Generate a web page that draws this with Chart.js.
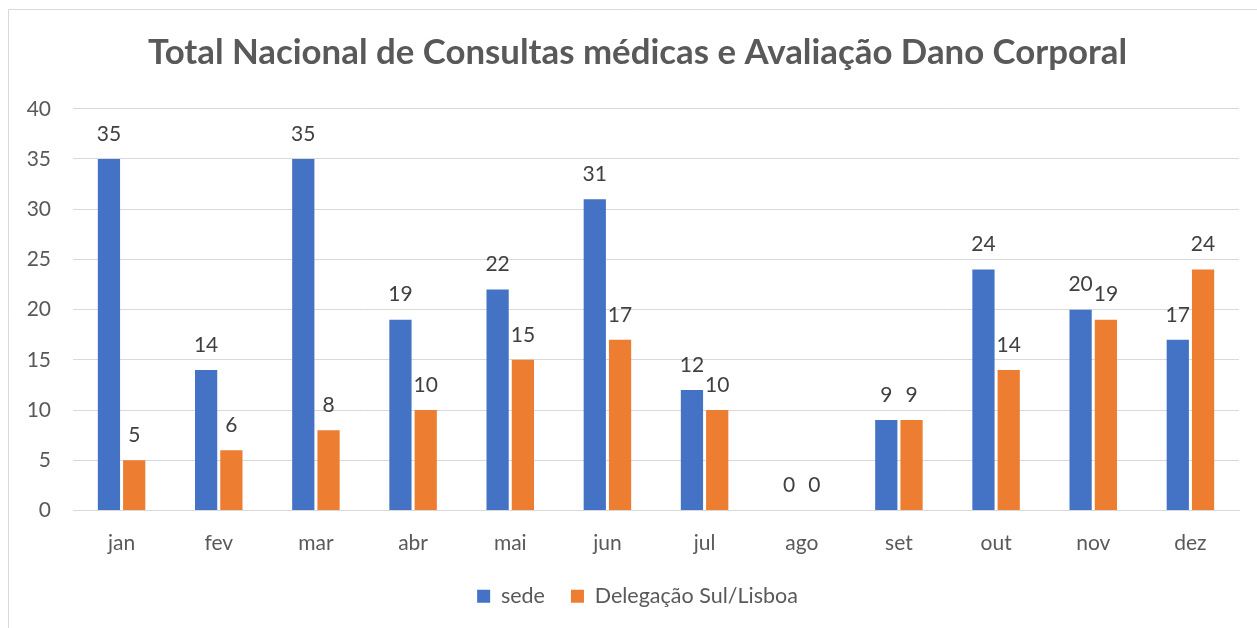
<!DOCTYPE html>
<html>
<head>
<meta charset="utf-8">
<script src="https://cdn.jsdelivr.net/npm/chart.js@4/dist/chart.umd.min.js"></script>
<style>
  html, body { margin: 0; padding: 0; background: #fff; }
  #wrap { position: relative; width: 1257px; height: 628px; }
  canvas { display: block; }
</style>
</head>
<body>
<div id="wrap"><canvas id="c" width="1257" height="628"></canvas></div>
<script>
const categories = ['jan','fev','mar','abr','mai','jun','jul','ago','set','out','nov','dez'];
const sede = [35,14,35,19,22,31,12,0,9,24,20,17];
const delegacao = [5,6,8,10,15,17,10,0,9,14,19,24];
const yTicks = [0,5,10,15,20,25,30,35,40];
const titleText = 'Total Nacional de Consultas médicas e Avaliação Dano Corporal';
const seriesNames = ['sede','Delegação Sul/Lisboa'];

const FONT = 'Lato, "Open Sans", sans-serif';

const framePlugin = {
  id: 'frame',
  beforeDraw(chart) {
    const ctx = chart.ctx;
    ctx.save();
    ctx.fillStyle = '#fff';
    ctx.fillRect(0, 0, chart.width, chart.height);
    ctx.strokeStyle = '#d9d9d9';
    ctx.lineWidth = 1;
    ctx.beginPath();
    ctx.moveTo(8.5, chart.height);
    ctx.lineTo(8.5, 9.5);
    ctx.lineTo(chart.width, 9.5);
    ctx.stroke();
    ctx.restore();
  }
};

const labelPlugin = {
  id: 'barLabels',
  afterDatasetsDraw(chart) {
    const ctx = chart.ctx;
    ctx.save();
    ctx.font = '21px ' + FONT;
    ctx.fillStyle = '#404040';
    ctx.textAlign = 'center';
    ctx.textBaseline = 'middle';
    chart.data.datasets.forEach((ds, di) => {
      const meta = chart.getDatasetMeta(di);
      meta.data.forEach((bar, i) => {
        ctx.fillText(String(ds.data[i]), bar.x, bar.y - 25);
      });
    });
    ctx.restore();
  }
};

new Chart(document.getElementById('c'), {
  type: 'bar',
  data: {
    labels: categories,
    datasets: [
      { label: seriesNames[0], data: sede, backgroundColor: '#4472C4', categoryPercentage: 0.52, barPercentage: 0.88 },
      { label: seriesNames[1], data: delegacao, backgroundColor: '#ED7D31', categoryPercentage: 0.52, barPercentage: 0.88 }
    ]
  },
  options: {
    responsive: false,
    animation: false,
    devicePixelRatio: 1,
    layout: { padding: { left: 18, right: 0, top: 32, bottom: 11 } },
    plugins: {
      title: {
        display: true,
        text: titleText,
        color: '#595959',
        font: { family: FONT, size: 34.8, weight: 'bold', lineHeight: 1.2 },
        padding: { top: 0, bottom: 35 }
      },
      legend: {
        display: true,
        position: 'bottom',
        labels: {
          color: '#595959',
          font: { family: FONT, size: 21.5 },
          boxWidth: 13,
          boxHeight: 13,
          padding: 26
        }
      },
      tooltip: { enabled: false }
    },
    scales: {
      x: {
        grid: { display: false },
        border: { display: true, color: '#d9d9d9' },
        ticks: { color: '#595959', font: { family: FONT, size: 21 }, padding: 12 },
        afterFit(s) { s.height = 49; }
      },
      y: {
        min: 0,
        max: 40,
        afterBuildTicks(s) { s.ticks = yTicks.map(v => ({ value: v })); },
        grid: { color: '#d9d9d9', lineWidth: 1, drawTicks: false },
        border: { display: false },
        ticks: { color: '#595959', font: { family: FONT, size: 21 }, padding: 22 },
        afterFit(s) { s.width = 55; }
      },
      spacer: {
        type: 'linear',
        position: 'right',
        display: true,
        grid: { display: false },
        border: { display: false },
        ticks: { display: false },
        afterFit(s) { s.width = 18; }
      }
    }
  },
  plugins: [framePlugin, labelPlugin]
});
</script>
</body>
</html>
